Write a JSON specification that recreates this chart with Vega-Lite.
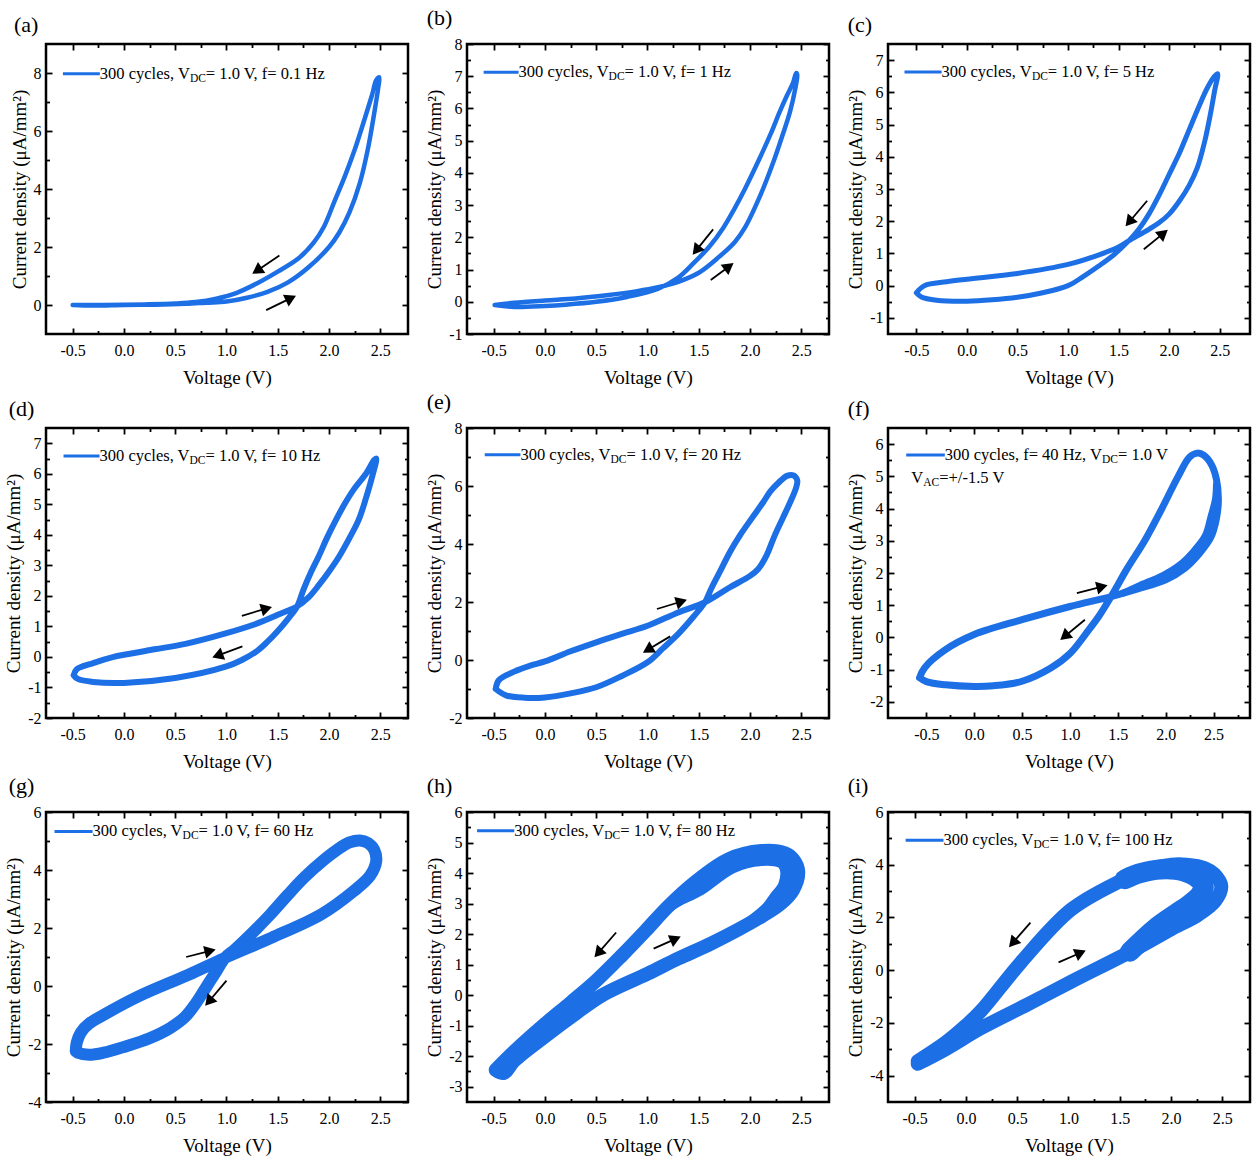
{
"$schema": "https://vega.github.io/schema/vega-lite/v6.json",
"padding": {"left": 3, "top": 5, "right": 0, "bottom": 0},
"columns": 3,
"spacing": {"row": 0, "column": 13},
"datasets": {
"loops": [
{"p":"a","i":0,"v":-0.5,"j":0.0},{"p":"a","i":1,"v":-0.3,"j":-0.02},{"p":"a","i":2,"v":0.0,"j":0.0},{"p":"a","i":3,"v":0.3,"j":0.01},{"p":"a","i":4,"v":0.6,"j":0.04},{"p":"a","i":5,"v":0.8,"j":0.08},{"p":"a","i":6,"v":1.0,"j":0.12},{"p":"a","i":7,"v":1.2,"j":0.25},{"p":"a","i":8,"v":1.4,"j":0.45},{"p":"a","i":9,"v":1.6,"j":0.78},{"p":"a","i":10,"v":1.8,"j":1.3},{"p":"a","i":11,"v":2.0,"j":2.0},{"p":"a","i":12,"v":2.1,"j":2.5},{"p":"a","i":13,"v":2.2,"j":3.2},{"p":"a","i":14,"v":2.3,"j":4.2},{"p":"a","i":15,"v":2.38,"j":5.4},{"p":"a","i":16,"v":2.44,"j":6.6},{"p":"a","i":17,"v":2.48,"j":7.5},{"p":"a","i":18,"v":2.49,"j":7.85},
{"p":"a","i":19,"v":2.46,"j":7.75},{"p":"a","i":20,"v":2.42,"j":7.25},{"p":"a","i":21,"v":2.35,"j":6.45},{"p":"a","i":22,"v":2.25,"j":5.35},{"p":"a","i":23,"v":2.15,"j":4.4},{"p":"a","i":24,"v":2.05,"j":3.55},{"p":"a","i":25,"v":1.95,"j":2.7},{"p":"a","i":26,"v":1.85,"j":2.15},{"p":"a","i":27,"v":1.7,"j":1.6},{"p":"a","i":28,"v":1.5,"j":1.15},{"p":"a","i":29,"v":1.3,"j":0.75},{"p":"a","i":30,"v":1.1,"j":0.42},{"p":"a","i":31,"v":0.9,"j":0.22},{"p":"a","i":32,"v":0.7,"j":0.1},{"p":"a","i":33,"v":0.5,"j":0.05},{"p":"a","i":34,"v":0.2,"j":0.02},{"p":"a","i":35,"v":-0.2,"j":0.0},{"p":"a","i":36,"v":-0.5,"j":0.0},

{"p":"b","i":0,"v":-0.49,"j":-0.1},{"p":"b","i":1,"v":-0.3,"j":-0.03},{"p":"b","i":2,"v":0.0,"j":0.04},{"p":"b","i":3,"v":0.3,"j":0.1},{"p":"b","i":4,"v":0.6,"j":0.2},{"p":"b","i":5,"v":0.9,"j":0.33},{"p":"b","i":6,"v":1.1,"j":0.45},{"p":"b","i":7,"v":1.3,"j":0.62},{"p":"b","i":8,"v":1.5,"j":0.9},{"p":"b","i":9,"v":1.7,"j":1.4},{"p":"b","i":10,"v":1.85,"j":1.85},{"p":"b","i":11,"v":1.95,"j":2.3},{"p":"b","i":12,"v":2.1,"j":3.3},{"p":"b","i":13,"v":2.23,"j":4.36},{"p":"b","i":14,"v":2.32,"j":5.2},{"p":"b","i":15,"v":2.39,"j":5.9},{"p":"b","i":16,"v":2.44,"j":6.6},{"p":"b","i":17,"v":2.46,"j":7.05},
{"p":"b","i":18,"v":2.45,"j":7.1},{"p":"b","i":19,"v":2.42,"j":6.8},{"p":"b","i":20,"v":2.36,"j":6.4},{"p":"b","i":21,"v":2.29,"j":5.9},{"p":"b","i":22,"v":2.2,"j":5.2},{"p":"b","i":23,"v":2.08,"j":4.36},{"p":"b","i":24,"v":1.95,"j":3.5},{"p":"b","i":25,"v":1.85,"j":2.9},{"p":"b","i":26,"v":1.74,"j":2.3},{"p":"b","i":27,"v":1.6,"j":1.7},{"p":"b","i":28,"v":1.45,"j":1.2},{"p":"b","i":29,"v":1.3,"j":0.75},{"p":"b","i":30,"v":1.1,"j":0.4},{"p":"b","i":31,"v":0.8,"j":0.15},{"p":"b","i":32,"v":0.5,"j":0.0},{"p":"b","i":33,"v":0.2,"j":-0.09},{"p":"b","i":34,"v":0.0,"j":-0.13},{"p":"b","i":35,"v":-0.3,"j":-0.16},{"p":"b","i":36,"v":-0.49,"j":-0.1},

{"p":"c","i":0,"v":-0.5,"j":-0.22},{"p":"c","i":1,"v":-0.42,"j":0.0},{"p":"c","i":2,"v":-0.2,"j":0.12},{"p":"c","i":3,"v":0.0,"j":0.2},{"p":"c","i":4,"v":0.5,"j":0.38},{"p":"c","i":5,"v":1.0,"j":0.66},{"p":"c","i":6,"v":1.3,"j":0.95},{"p":"c","i":7,"v":1.5,"j":1.2},{"p":"c","i":8,"v":1.6,"j":1.39},{"p":"c","i":9,"v":1.8,"j":1.75},{"p":"c","i":10,"v":1.9,"j":1.95},{"p":"c","i":11,"v":2.0,"j":2.22},{"p":"c","i":12,"v":2.1,"j":2.62},{"p":"c","i":13,"v":2.2,"j":3.12},{"p":"c","i":14,"v":2.28,"j":3.67},{"p":"c","i":15,"v":2.35,"j":4.45},{"p":"c","i":16,"v":2.41,"j":5.35},{"p":"c","i":17,"v":2.45,"j":6.05},{"p":"c","i":18,"v":2.48,"j":6.58},
{"p":"c","i":19,"v":2.45,"j":6.5},{"p":"c","i":20,"v":2.38,"j":6.15},{"p":"c","i":21,"v":2.3,"j":5.6},{"p":"c","i":22,"v":2.2,"j":4.85},{"p":"c","i":23,"v":2.1,"j":4.1},{"p":"c","i":24,"v":2.0,"j":3.45},{"p":"c","i":25,"v":1.9,"j":2.8},{"p":"c","i":26,"v":1.8,"j":2.22},{"p":"c","i":27,"v":1.7,"j":1.75},{"p":"c","i":28,"v":1.6,"j":1.39},{"p":"c","i":29,"v":1.45,"j":0.95},{"p":"c","i":30,"v":1.3,"j":0.6},{"p":"c","i":31,"v":1.15,"j":0.28},{"p":"c","i":32,"v":1.0,"j":0.0},{"p":"c","i":33,"v":0.75,"j":-0.22},{"p":"c","i":34,"v":0.5,"j":-0.36},{"p":"c","i":35,"v":0.25,"j":-0.44},{"p":"c","i":36,"v":0.0,"j":-0.48},{"p":"c","i":37,"v":-0.3,"j":-0.45},{"p":"c","i":38,"v":-0.45,"j":-0.35},{"p":"c","i":39,"v":-0.5,"j":-0.22},

{"p":"d","i":0,"v":-0.49,"j":-0.6},{"p":"d","i":1,"v":-0.46,"j":-0.4},{"p":"d","i":2,"v":-0.3,"j":-0.2},{"p":"d","i":3,"v":-0.1,"j":0.0},{"p":"d","i":4,"v":0.0,"j":0.07},{"p":"d","i":5,"v":0.3,"j":0.25},{"p":"d","i":6,"v":0.6,"j":0.43},{"p":"d","i":7,"v":1.0,"j":0.78},{"p":"d","i":8,"v":1.3,"j":1.1},{"p":"d","i":9,"v":1.5,"j":1.38},{"p":"d","i":10,"v":1.69,"j":1.66},{"p":"d","i":11,"v":1.8,"j":1.95},{"p":"d","i":12,"v":1.9,"j":2.35},{"p":"d","i":13,"v":2.0,"j":2.8},{"p":"d","i":14,"v":2.1,"j":3.3},{"p":"d","i":15,"v":2.2,"j":3.9},{"p":"d","i":16,"v":2.29,"j":4.5},{"p":"d","i":17,"v":2.36,"j":5.2},{"p":"d","i":18,"v":2.42,"j":5.9},{"p":"d","i":19,"v":2.46,"j":6.5},
{"p":"d","i":20,"v":2.44,"j":6.45},{"p":"d","i":21,"v":2.36,"j":6.0},{"p":"d","i":22,"v":2.25,"j":5.53},{"p":"d","i":23,"v":2.15,"j":5.0},{"p":"d","i":24,"v":2.06,"j":4.44},{"p":"d","i":25,"v":1.98,"j":3.9},{"p":"d","i":26,"v":1.9,"j":3.3},{"p":"d","i":27,"v":1.82,"j":2.75},{"p":"d","i":28,"v":1.75,"j":2.2},{"p":"d","i":29,"v":1.69,"j":1.66},{"p":"d","i":30,"v":1.6,"j":1.25},{"p":"d","i":31,"v":1.5,"j":0.85},{"p":"d","i":32,"v":1.4,"j":0.5},{"p":"d","i":33,"v":1.3,"j":0.2},{"p":"d","i":34,"v":1.15,"j":-0.1},{"p":"d","i":35,"v":1.0,"j":-0.31},{"p":"d","i":36,"v":0.5,"j":-0.69},{"p":"d","i":37,"v":0.0,"j":-0.85},{"p":"d","i":38,"v":-0.3,"j":-0.82},{"p":"d","i":39,"v":-0.45,"j":-0.72},{"p":"d","i":40,"v":-0.49,"j":-0.6},

{"p":"e","i":0,"v":-0.48,"j":-1.0},{"p":"e","i":1,"v":-0.45,"j":-0.7},{"p":"e","i":2,"v":-0.3,"j":-0.4},{"p":"e","i":3,"v":-0.15,"j":-0.2},{"p":"e","i":4,"v":0.0,"j":-0.05},{"p":"e","i":5,"v":0.25,"j":0.3},{"p":"e","i":6,"v":0.5,"j":0.61},{"p":"e","i":7,"v":0.75,"j":0.9},{"p":"e","i":8,"v":1.0,"j":1.18},{"p":"e","i":9,"v":1.3,"j":1.64},{"p":"e","i":10,"v":1.56,"j":1.99},{"p":"e","i":11,"v":1.8,"j":2.5},{"p":"e","i":12,"v":2.0,"j":2.9},{"p":"e","i":13,"v":2.08,"j":3.14},{"p":"e","i":14,"v":2.16,"j":3.6},{"p":"e","i":15,"v":2.24,"j":4.29},{"p":"e","i":16,"v":2.32,"j":4.9},{"p":"e","i":17,"v":2.39,"j":5.43},{"p":"e","i":18,"v":2.45,"j":5.95},{"p":"e","i":19,"v":2.46,"j":6.2},{"p":"e","i":20,"v":2.42,"j":6.37},
{"p":"e","i":21,"v":2.36,"j":6.35},{"p":"e","i":22,"v":2.28,"j":6.12},{"p":"e","i":23,"v":2.2,"j":5.82},{"p":"e","i":24,"v":2.13,"j":5.45},{"p":"e","i":25,"v":2.02,"j":4.9},{"p":"e","i":26,"v":1.9,"j":4.29},{"p":"e","i":27,"v":1.8,"j":3.7},{"p":"e","i":28,"v":1.72,"j":3.14},{"p":"e","i":29,"v":1.62,"j":2.45},{"p":"e","i":30,"v":1.56,"j":1.99},{"p":"e","i":31,"v":1.45,"j":1.5},{"p":"e","i":32,"v":1.3,"j":0.9},{"p":"e","i":33,"v":1.15,"j":0.4},{"p":"e","i":34,"v":1.0,"j":-0.08},{"p":"e","i":35,"v":0.75,"j":-0.55},{"p":"e","i":36,"v":0.5,"j":-0.94},{"p":"e","i":37,"v":0.25,"j":-1.15},{"p":"e","i":38,"v":0.0,"j":-1.29},{"p":"e","i":39,"v":-0.2,"j":-1.3},{"p":"e","i":40,"v":-0.38,"j":-1.22},{"p":"e","i":41,"v":-0.48,"j":-1.0},

{"p":"f","i":0,"v":-0.57,"j":-1.25},{"p":"f","i":1,"v":-0.52,"j":-0.95},{"p":"f","i":2,"v":-0.3,"j":-0.38},{"p":"f","i":3,"v":0.0,"j":0.09},{"p":"f","i":4,"v":0.5,"j":0.55},{"p":"f","i":5,"v":1.0,"j":0.96},{"p":"f","i":6,"v":1.43,"j":1.27},{"p":"f","i":7,"v":1.7,"j":1.5},{"p":"f","i":8,"v":2.0,"j":1.79},{"p":"f","i":9,"v":2.2,"j":2.15},{"p":"f","i":10,"v":2.35,"j":2.6},{"p":"f","i":11,"v":2.47,"j":3.1},{"p":"f","i":12,"v":2.53,"j":3.7},{"p":"f","i":13,"v":2.55,"j":4.3},{"p":"f","i":14,"v":2.53,"j":4.9},{"p":"f","i":15,"v":2.48,"j":5.35},{"p":"f","i":16,"v":2.4,"j":5.65},{"p":"f","i":17,"v":2.33,"j":5.72},
{"p":"f","i":18,"v":2.25,"j":5.6},{"p":"f","i":19,"v":2.13,"j":5.0},{"p":"f","i":20,"v":1.96,"j":4.0},{"p":"f","i":21,"v":1.78,"j":3.0},{"p":"f","i":22,"v":1.6,"j":2.15},{"p":"f","i":23,"v":1.43,"j":1.27},{"p":"f","i":24,"v":1.3,"j":0.65},{"p":"f","i":25,"v":1.2,"j":0.25},{"p":"f","i":26,"v":1.0,"j":-0.5},{"p":"f","i":27,"v":0.8,"j":-0.95},{"p":"f","i":28,"v":0.5,"j":-1.36},{"p":"f","i":29,"v":0.2,"j":-1.5},{"p":"f","i":30,"v":0.0,"j":-1.52},{"p":"f","i":31,"v":-0.3,"j":-1.47},{"p":"f","i":32,"v":-0.5,"j":-1.37},{"p":"f","i":33,"v":-0.57,"j":-1.25},

{"p":"g","i":0,"v":-0.47,"j":-2.25},{"p":"g","i":1,"v":-0.46,"j":-1.95},{"p":"g","i":2,"v":-0.42,"j":-1.6},{"p":"g","i":3,"v":-0.34,"j":-1.3},{"p":"g","i":4,"v":-0.2,"j":-1.0},{"p":"g","i":5,"v":0.146,"j":-0.35},{"p":"g","i":6,"v":0.63,"j":0.39},{"p":"g","i":7,"v":0.985,"j":0.97},{"p":"g","i":8,"v":1.436,"j":1.66},{"p":"g","i":9,"v":1.92,"j":2.46},{"p":"g","i":10,"v":2.24,"j":3.27},{"p":"g","i":11,"v":2.4,"j":3.8},{"p":"g","i":12,"v":2.46,"j":4.3},{"p":"g","i":13,"v":2.44,"j":4.7},{"p":"g","i":14,"v":2.38,"j":4.93},{"p":"g","i":15,"v":2.3,"j":5.02},
{"p":"g","i":16,"v":2.2,"j":4.95},{"p":"g","i":17,"v":2.08,"j":4.7},{"p":"g","i":18,"v":1.95,"j":4.35},{"p":"g","i":19,"v":1.76,"j":3.75},{"p":"g","i":20,"v":1.6,"j":3.15},{"p":"g","i":21,"v":1.436,"j":2.5},{"p":"g","i":22,"v":1.3,"j":2.0},{"p":"g","i":23,"v":1.2,"j":1.65},{"p":"g","i":24,"v":1.08,"j":1.25},{"p":"g","i":25,"v":0.985,"j":0.97},{"p":"g","i":26,"v":0.9,"j":0.5},{"p":"g","i":27,"v":0.8,"j":-0.05},{"p":"g","i":28,"v":0.7,"j":-0.6},{"p":"g","i":29,"v":0.6,"j":-1.05},{"p":"g","i":30,"v":0.45,"j":-1.45},{"p":"g","i":31,"v":0.25,"j":-1.8},{"p":"g","i":32,"v":0.0,"j":-2.1},{"p":"g","i":33,"v":-0.2,"j":-2.3},{"p":"g","i":34,"v":-0.34,"j":-2.37},{"p":"g","i":35,"v":-0.45,"j":-2.3},{"p":"g","i":36,"v":-0.47,"j":-2.25},

{"p":"h","i":0,"v":-0.48,"j":-2.45},{"p":"h","i":1,"v":-0.4,"j":-2.55},{"p":"h","i":2,"v":-0.3,"j":-2.15},{"p":"h","i":3,"v":0.0,"j":-1.35},{"p":"h","i":4,"v":0.3,"j":-0.6},{"p":"h","i":5,"v":0.56,"j":0.0},{"p":"h","i":6,"v":1.0,"j":0.7},{"p":"h","i":7,"v":1.3,"j":1.2},{"p":"h","i":8,"v":1.626,"j":1.7},{"p":"h","i":9,"v":2.112,"j":2.58},{"p":"h","i":10,"v":2.3,"j":3.0},{"p":"h","i":11,"v":2.42,"j":3.45},{"p":"h","i":12,"v":2.47,"j":4.05},
{"p":"h","i":13,"v":2.42,"j":4.45},{"p":"h","i":14,"v":2.34,"j":4.65},{"p":"h","i":15,"v":2.11,"j":4.72},{"p":"h","i":16,"v":1.79,"j":4.45},{"p":"h","i":17,"v":1.464,"j":3.7},{"p":"h","i":18,"v":1.2,"j":2.9},{"p":"h","i":19,"v":0.979,"j":2.1},{"p":"h","i":20,"v":0.75,"j":1.3},{"p":"h","i":21,"v":0.493,"j":0.45},{"p":"h","i":22,"v":0.25,"j":-0.25},{"p":"h","i":23,"v":0.0,"j":-0.95},{"p":"h","i":24,"v":-0.3,"j":-1.85},{"p":"h","i":25,"v":-0.48,"j":-2.45},

{"p":"i","i":0,"v":-0.47,"j":-3.55},{"p":"i","i":1,"v":-0.2,"j":-3.0},{"p":"i","i":2,"v":0.146,"j":-2.2},{"p":"i","i":3,"v":0.6,"j":-1.3},{"p":"i","i":4,"v":1.026,"j":-0.44},{"p":"i","i":5,"v":1.678,"j":0.85},{"p":"i","i":6,"v":2.0,"j":1.55},{"p":"i","i":7,"v":2.265,"j":2.1},{"p":"i","i":8,"v":2.43,"j":2.62},{"p":"i","i":9,"v":2.49,"j":3.18},
{"p":"i","i":10,"v":2.42,"j":3.65},{"p":"i","i":11,"v":2.33,"j":3.87},{"p":"i","i":12,"v":2.15,"j":4.0},{"p":"i","i":13,"v":2.004,"j":4.0},{"p":"i","i":14,"v":1.75,"j":3.8},{"p":"i","i":15,"v":1.515,"j":3.4},{"p":"i","i":16,"v":1.026,"j":2.3},{"p":"i","i":17,"v":0.537,"j":0.3},{"p":"i","i":18,"v":0.146,"j":-1.55},{"p":"i","i":19,"v":0.0,"j":-2.1},{"p":"i","i":20,"v":-0.2,"j":-2.75},{"p":"i","i":21,"v":-0.47,"j":-3.45}
],
"extra": [
{"p":"f","i":0,"v":1.55,"j":1.37},{"p":"f","i":1,"v":1.72,"j":1.6},{"p":"f","i":2,"v":1.975,"j":1.93},{"p":"f","i":3,"v":2.16,"j":2.28},{"p":"f","i":4,"v":2.3,"j":2.7},{"p":"f","i":5,"v":2.414,"j":3.16},{"p":"f","i":6,"v":2.47,"j":3.72},{"p":"f","i":7,"v":2.52,"j":4.3},{"p":"f","i":8,"v":2.53,"j":4.75},
{"p":"h","i":0,"v":2.0,"j":2.38},{"p":"h","i":1,"v":2.17,"j":2.86},{"p":"h","i":2,"v":2.244,"j":3.2},{"p":"h","i":3,"v":2.33,"j":3.59},{"p":"h","i":4,"v":2.353,"j":4.05},{"p":"h","i":5,"v":2.33,"j":4.276},{"p":"h","i":6,"v":2.3,"j":4.364},{"p":"h","i":7,"v":2.11,"j":4.425},{"p":"h","i":8,"v":1.827,"j":4.183},{"p":"h","i":9,"v":1.518,"j":3.467},{"p":"h","i":10,"v":1.3,"j":3.1},{"p":"h","i":11,"v":1.2,"j":2.9},
{"p":"i","i":0,"v":1.6,"j":0.7},{"p":"i","i":1,"v":1.85,"j":1.6},{"p":"i","i":2,"v":2.05,"j":2.15},{"p":"i","i":3,"v":2.18,"j":2.5},{"p":"i","i":4,"v":2.28,"j":2.85},{"p":"i","i":5,"v":2.32,"j":3.15},{"p":"i","i":6,"v":2.27,"j":3.45},{"p":"i","i":7,"v":2.12,"j":3.75},{"p":"i","i":8,"v":1.9,"j":3.82},{"p":"i","i":9,"v":1.7,"j":3.68},{"p":"i","i":10,"v":1.55,"j":3.45}
],
"legend": [
{"p":"a","k":"line","x":-0.595,"x2":-0.235,"y":7.97},{"p":"a","k":"t","x":-0.235,"y":7.97,"t":"300 cycles, V"},{"p":"a","k":"s","x":0.643,"y":7.97,"t":"DC"},{"p":"a","k":"t","x":0.799,"y":7.97,"t":"= 1.0 V, f= 0.1 Hz"},
{"p":"b","k":"line","x":-0.598,"x2":-0.257,"y":7.12},{"p":"b","k":"t","x":-0.257,"y":7.12,"t":"300 cycles, V"},{"p":"b","k":"s","x":0.621,"y":7.12,"t":"DC"},{"p":"b","k":"t","x":0.777,"y":7.12,"t":"= 1.0 V, f= 1 Hz"},
{"p":"c","k":"line","x":-0.617,"x2":-0.25,"y":6.63},{"p":"c","k":"t","x":-0.25,"y":6.63,"t":"300 cycles, V"},{"p":"c","k":"s","x":0.643,"y":6.63,"t":"DC"},{"p":"c","k":"t","x":0.801,"y":6.63,"t":"= 1.0 V, f= 5 Hz"},
{"p":"d","k":"line","x":-0.589,"x2":-0.238,"y":6.58},{"p":"d","k":"t","x":-0.238,"y":6.58,"t":"300 cycles, V"},{"p":"d","k":"s","x":0.64,"y":6.58,"t":"DC"},{"p":"d","k":"t","x":0.796,"y":6.58,"t":"= 1.0 V, f= 10 Hz"},
{"p":"e","k":"line","x":-0.587,"x2":-0.239,"y":7.08},{"p":"e","k":"t","x":-0.239,"y":7.08,"t":"300 cycles, V"},{"p":"e","k":"s","x":0.639,"y":7.08,"t":"DC"},{"p":"e","k":"t","x":0.795,"y":7.08,"t":"= 1.0 V, f= 20 Hz"},
{"p":"f","k":"line","x":-0.71,"x2":-0.307,"y":5.66},{"p":"f","k":"t","x":-0.307,"y":5.66,"t":"300 cycles, f= 40 Hz, V"},{"p":"f","k":"s","x":1.335,"y":5.66,"t":"DC"},{"p":"f","k":"t","x":1.502,"y":5.66,"t":"= 1.0 V"},
{"p":"f","k":"t","x":-0.656,"y":4.94,"t":"V"},{"p":"f","k":"s","x":-0.532,"y":4.94,"t":"AC"},{"p":"f","k":"t","x":-0.365,"y":4.94,"t":"=+/-1.5 V"},
{"p":"g","k":"line","x":-0.677,"x2":-0.306,"y":5.33},{"p":"g","k":"t","x":-0.306,"y":5.33,"t":"300 cycles, V"},{"p":"g","k":"s","x":0.572,"y":5.33,"t":"DC"},{"p":"g","k":"t","x":0.728,"y":5.33,"t":"= 1.0 V, f= 60 Hz"},
{"p":"h","k":"line","x":-0.662,"x2":-0.299,"y":5.385},{"p":"h","k":"t","x":-0.299,"y":5.385,"t":"300 cycles, V"},{"p":"h","k":"s","x":0.579,"y":5.385,"t":"DC"},{"p":"h","k":"t","x":0.735,"y":5.385,"t":"= 1.0 V, f= 80 Hz"},
{"p":"i","k":"line","x":-0.588,"x2":-0.219,"y":4.93},{"p":"i","k":"t","x":-0.219,"y":4.93,"t":"300 cycles, V"},{"p":"i","k":"s","x":0.659,"y":4.93,"t":"DC"},{"p":"i","k":"t","x":0.815,"y":4.93,"t":"= 1.0 V, f= 100 Hz"}
],
"arrows": [
{"p":"a","x":1.516,"y":1.705,"x2":1.297,"y2":1.185,"a":236},{"p":"a","x":1.387,"y":-0.178,"x2":1.628,"y2":0.237,"a":64},
{"p":"b","x":1.64,"y":2.245,"x2":1.475,"y2":1.594,"a":218.7},{"p":"b","x":1.617,"y":0.673,"x2":1.795,"y2":1.095,"a":53.2},
{"p":"c","x":1.783,"y":2.636,"x2":1.605,"y2":1.975,"a":220},{"p":"c","x":1.75,"y":1.13,"x2":1.944,"y2":1.623,"a":50.8},
{"p":"d","x":1.15,"y":1.349,"x2":1.391,"y2":1.588,"a":73.6},{"p":"d","x":1.155,"y":0.347,"x2":0.913,"y2":0.043,"a":249.6},
{"p":"e","x":1.092,"y":1.759,"x2":1.332,"y2":2.017,"a":73.1},{"p":"e","x":1.221,"y":0.814,"x2":1.003,"y2":0.352,"a":239.3},
{"p":"f","x":1.072,"y":1.378,"x2":1.336,"y2":1.575,"a":75.8},{"p":"f","x":1.156,"y":0.551,"x2":0.944,"y2":0.031,"a":230.2},
{"p":"g","x":0.607,"y":1.0,"x2":0.841,"y2":1.21,"a":75.9},{"p":"g","x":1.0,"y":0.183,"x2":0.828,"y2":-0.535,"a":220.5},
{"p":"h","x":0.694,"y":2.053,"x2":0.519,"y2":1.377,"a":221.2},{"p":"h","x":1.06,"y":1.526,"x2":1.274,"y2":1.845,"a":66.3},
{"p":"i","x":0.629,"y":1.806,"x2":0.456,"y2":1.034,"a":221.2},{"p":"i","x":0.903,"y":0.297,"x2":1.118,"y2":0.663,"a":66.4}
]
},
"concat": [
{"width":362,"height":290,"title":{"text":"(a)","dx":4},"resolve":{"axis":{"x":"independent","y":"independent"}},"layer":[
{"data":{"name":"loops"},"transform":[{"filter":"datum.p=='a'"}],"mark":{"type":"line","color":"#1d6fe5","strokeWidth":4.5,"interpolate":"catmull-rom","strokeJoin":"round","strokeCap":"round"},
"encoding":{"x":{"field":"v","type":"quantitative","scale":{"domain":[-0.76,2.77],"nice":false,"zero":false},"axis":{"orient":"bottom","title":"Voltage (V)","values":[-0.5,-0.25,0,0.25,0.5,0.75,1,1.25,1.5,1.75,2,2.25,2.5],"labelExpr":"abs(datum.value*2-round(datum.value*2))<0.001 ? replace(format(datum.value,'.1f'),'\u2212','-') : ''","tickSize":{"condition":{"test":"abs(datum.value*2-round(datum.value*2))>0.001","value":-3.5},"value":-6},"labelPadding":14,"titlePadding":8}},
"y":{"field":"j","type":"quantitative","scale":{"domain":[-1,9],"nice":false,"zero":false},"axis":{"orient":"left","title":"Current density (μA/mm²)","values":[0,1,2,3,4,5,6,7,8],"labelExpr":"datum.value % 2 == 0 ? '' + datum.value : ''","tickSize":{"condition":{"test":"datum.value % 2 != 0","value":-3.5},"value":-6},"labelPadding":11,"titlePadding":4}},
"order":{"field":"i","type":"quantitative"}}},
{"data":{"name":"legend"},"transform":[{"filter":"datum.p=='a' && datum.k=='line'"}],"mark":{"type":"rule","color":"#1d6fe5","strokeWidth":3},
"encoding":{"x":{"field":"x","type":"quantitative","axis":{"orient":"top","labels":false,"title":null,"values":[-0.5,-0.25,0,0.25,0.5,0.75,1,1.25,1.5,1.75,2,2.25,2.5],"tickSize":{"condition":{"test":"abs(datum.value*2-round(datum.value*2))>0.001","value":-3.5},"value":-6}}},"x2":{"field":"x2"},
"y":{"field":"y","type":"quantitative","axis":{"orient":"right","labels":false,"title":null,"values":[0,1,2,3,4,5,6,7,8],"tickSize":{"condition":{"test":"datum.value % 2 != 0","value":-3.5},"value":-6}}}}},
{"data":{"name":"legend"},"transform":[{"filter":"datum.p=='a' && datum.k=='t'"}],"mark":{"type":"text","align":"left","baseline":"middle","fontSize":16.5,"color":"black"},"encoding":{"x":{"field":"x","type":"quantitative","axis":null},"y":{"field":"y","type":"quantitative","axis":null},"text":{"field":"t"}}},
{"data":{"name":"legend"},"transform":[{"filter":"datum.p=='a' && datum.k=='s'"}],"mark":{"type":"text","align":"left","baseline":"middle","fontSize":11.5,"dy":5,"color":"black"},"encoding":{"x":{"field":"x","type":"quantitative","axis":null},"y":{"field":"y","type":"quantitative","axis":null},"text":{"field":"t"}}},
{"data":{"name":"arrows"},"transform":[{"filter":"datum.p=='a'"}],"mark":{"type":"rule","color":"black","strokeWidth":1.8},"encoding":{"x":{"field":"x","type":"quantitative","axis":null},"y":{"field":"y","type":"quantitative","axis":null},"x2":{"field":"x2"},"y2":{"field":"y2"}}},
{"data":{"name":"arrows"},"transform":[{"filter":"datum.p=='a'"}],"mark":{"type":"point","shape":"triangle-up","filled":true,"size":170,"color":"black","opacity":1},"encoding":{"x":{"field":"x2","type":"quantitative","axis":null},"y":{"field":"y2","type":"quantitative","axis":null},"angle":{"field":"a","type":"quantitative","scale":null}}}
]},
{"width":362,"height":290,"title":{"text":"(b)","dx":1},"resolve":{"axis":{"x":"independent","y":"independent"}},"layer":[
{"data":{"name":"loops"},"transform":[{"filter":"datum.p=='b'"}],"mark":{"type":"line","color":"#1d6fe5","strokeWidth":4.5,"interpolate":"catmull-rom","strokeJoin":"round","strokeCap":"round"},
"encoding":{"x":{"field":"v","type":"quantitative","scale":{"domain":[-0.76,2.77],"nice":false,"zero":false},"axis":{"orient":"bottom","title":"Voltage (V)","values":[-0.5,-0.25,0,0.25,0.5,0.75,1,1.25,1.5,1.75,2,2.25,2.5],"labelExpr":"abs(datum.value*2-round(datum.value*2))<0.001 ? replace(format(datum.value,'.1f'),'\u2212','-') : ''","tickSize":{"condition":{"test":"abs(datum.value*2-round(datum.value*2))>0.001","value":-3.5},"value":-6},"labelPadding":14,"titlePadding":8}},
"y":{"field":"j","type":"quantitative","scale":{"domain":[-1,8],"nice":false,"zero":false},"axis":{"orient":"left","title":"Current density (μA/mm²)","values":[-1,-0.5,0,0.5,1,1.5,2,2.5,3,3.5,4,4.5,5,5.5,6,6.5,7,7.5,8],"labelExpr":"datum.value % 1 == 0 ? '' + datum.value : ''","tickSize":{"condition":{"test":"datum.value % 1 != 0","value":-3.5},"value":-6},"labelPadding":11,"titlePadding":4}},
"order":{"field":"i","type":"quantitative"}}},
{"data":{"name":"legend"},"transform":[{"filter":"datum.p=='b' && datum.k=='line'"}],"mark":{"type":"rule","color":"#1d6fe5","strokeWidth":3},
"encoding":{"x":{"field":"x","type":"quantitative","axis":{"orient":"top","labels":false,"title":null,"values":[-0.5,-0.25,0,0.25,0.5,0.75,1,1.25,1.5,1.75,2,2.25,2.5],"tickSize":{"condition":{"test":"abs(datum.value*2-round(datum.value*2))>0.001","value":-3.5},"value":-6}}},"x2":{"field":"x2"},
"y":{"field":"y","type":"quantitative","axis":{"orient":"right","labels":false,"title":null,"values":[-1,-0.5,0,0.5,1,1.5,2,2.5,3,3.5,4,4.5,5,5.5,6,6.5,7,7.5,8],"tickSize":{"condition":{"test":"datum.value % 1 != 0","value":-3.5},"value":-6}}}}},
{"data":{"name":"legend"},"transform":[{"filter":"datum.p=='b' && datum.k=='t'"}],"mark":{"type":"text","align":"left","baseline":"middle","fontSize":16.5,"color":"black"},"encoding":{"x":{"field":"x","type":"quantitative","axis":null},"y":{"field":"y","type":"quantitative","axis":null},"text":{"field":"t"}}},
{"data":{"name":"legend"},"transform":[{"filter":"datum.p=='b' && datum.k=='s'"}],"mark":{"type":"text","align":"left","baseline":"middle","fontSize":11.5,"dy":5,"color":"black"},"encoding":{"x":{"field":"x","type":"quantitative","axis":null},"y":{"field":"y","type":"quantitative","axis":null},"text":{"field":"t"}}},
{"data":{"name":"arrows"},"transform":[{"filter":"datum.p=='b'"}],"mark":{"type":"rule","color":"black","strokeWidth":1.8},"encoding":{"x":{"field":"x","type":"quantitative","axis":null},"y":{"field":"y","type":"quantitative","axis":null},"x2":{"field":"x2"},"y2":{"field":"y2"}}},
{"data":{"name":"arrows"},"transform":[{"filter":"datum.p=='b'"}],"mark":{"type":"point","shape":"triangle-up","filled":true,"size":170,"color":"black","opacity":1},"encoding":{"x":{"field":"x2","type":"quantitative","axis":null},"y":{"field":"y2","type":"quantitative","axis":null},"angle":{"field":"a","type":"quantitative","scale":null}}}
]},
{"width":362,"height":290,"title":{"text":"(c)","dx":1},"resolve":{"axis":{"x":"independent","y":"independent"}},"layer":[
{"data":{"name":"loops"},"transform":[{"filter":"datum.p=='c'"}],"mark":{"type":"line","color":"#1d6fe5","strokeWidth":5,"interpolate":"catmull-rom","strokeJoin":"round","strokeCap":"round"},
"encoding":{"x":{"field":"v","type":"quantitative","scale":{"domain":[-0.78,2.8],"nice":false,"zero":false},"axis":{"orient":"bottom","title":"Voltage (V)","values":[-0.5,-0.25,0,0.25,0.5,0.75,1,1.25,1.5,1.75,2,2.25,2.5],"labelExpr":"abs(datum.value*2-round(datum.value*2))<0.001 ? replace(format(datum.value,'.1f'),'\u2212','-') : ''","tickSize":{"condition":{"test":"abs(datum.value*2-round(datum.value*2))>0.001","value":-3.5},"value":-6},"labelPadding":14,"titlePadding":8}},
"y":{"field":"j","type":"quantitative","scale":{"domain":[-1.5,7.5],"nice":false,"zero":false},"axis":{"orient":"left","title":"Current density (μA/mm²)","values":[-1,-0.5,0,0.5,1,1.5,2,2.5,3,3.5,4,4.5,5,5.5,6,6.5,7],"labelExpr":"datum.value % 1 == 0 ? '' + datum.value : ''","tickSize":{"condition":{"test":"datum.value % 1 != 0","value":-3.5},"value":-6},"labelPadding":11,"titlePadding":4}},
"order":{"field":"i","type":"quantitative"}}},
{"data":{"name":"legend"},"transform":[{"filter":"datum.p=='c' && datum.k=='line'"}],"mark":{"type":"rule","color":"#1d6fe5","strokeWidth":3},
"encoding":{"x":{"field":"x","type":"quantitative","axis":{"orient":"top","labels":false,"title":null,"values":[-0.5,-0.25,0,0.25,0.5,0.75,1,1.25,1.5,1.75,2,2.25,2.5],"tickSize":{"condition":{"test":"abs(datum.value*2-round(datum.value*2))>0.001","value":-3.5},"value":-6}}},"x2":{"field":"x2"},
"y":{"field":"y","type":"quantitative","axis":{"orient":"right","labels":false,"title":null,"values":[-1,-0.5,0,0.5,1,1.5,2,2.5,3,3.5,4,4.5,5,5.5,6,6.5,7],"tickSize":{"condition":{"test":"datum.value % 1 != 0","value":-3.5},"value":-6}}}}},
{"data":{"name":"legend"},"transform":[{"filter":"datum.p=='c' && datum.k=='t'"}],"mark":{"type":"text","align":"left","baseline":"middle","fontSize":16.5,"color":"black"},"encoding":{"x":{"field":"x","type":"quantitative","axis":null},"y":{"field":"y","type":"quantitative","axis":null},"text":{"field":"t"}}},
{"data":{"name":"legend"},"transform":[{"filter":"datum.p=='c' && datum.k=='s'"}],"mark":{"type":"text","align":"left","baseline":"middle","fontSize":11.5,"dy":5,"color":"black"},"encoding":{"x":{"field":"x","type":"quantitative","axis":null},"y":{"field":"y","type":"quantitative","axis":null},"text":{"field":"t"}}},
{"data":{"name":"arrows"},"transform":[{"filter":"datum.p=='c'"}],"mark":{"type":"rule","color":"black","strokeWidth":1.8},"encoding":{"x":{"field":"x","type":"quantitative","axis":null},"y":{"field":"y","type":"quantitative","axis":null},"x2":{"field":"x2"},"y2":{"field":"y2"}}},
{"data":{"name":"arrows"},"transform":[{"filter":"datum.p=='c'"}],"mark":{"type":"point","shape":"triangle-up","filled":true,"size":170,"color":"black","opacity":1},"encoding":{"x":{"field":"x2","type":"quantitative","axis":null},"y":{"field":"y2","type":"quantitative","axis":null},"angle":{"field":"a","type":"quantitative","scale":null}}}
]},
{"width":362,"height":290,"title":{"text":"(d)","dx":4},"resolve":{"axis":{"x":"independent","y":"independent"}},"layer":[
{"data":{"name":"loops"},"transform":[{"filter":"datum.p=='d'"}],"mark":{"type":"line","color":"#1d6fe5","strokeWidth":6,"interpolate":"catmull-rom","strokeJoin":"round","strokeCap":"round"},
"encoding":{"x":{"field":"v","type":"quantitative","scale":{"domain":[-0.76,2.77],"nice":false,"zero":false},"axis":{"orient":"bottom","title":"Voltage (V)","values":[-0.5,-0.25,0,0.25,0.5,0.75,1,1.25,1.5,1.75,2,2.25,2.5],"labelExpr":"abs(datum.value*2-round(datum.value*2))<0.001 ? replace(format(datum.value,'.1f'),'\u2212','-') : ''","tickSize":{"condition":{"test":"abs(datum.value*2-round(datum.value*2))>0.001","value":-3.5},"value":-6},"labelPadding":14,"titlePadding":8}},
"y":{"field":"j","type":"quantitative","scale":{"domain":[-2,7.5],"nice":false,"zero":false},"axis":{"orient":"left","title":"Current density (μA/mm²)","values":[-2,-1.5,-1,-0.5,0,0.5,1,1.5,2,2.5,3,3.5,4,4.5,5,5.5,6,6.5,7],"labelExpr":"datum.value % 1 == 0 ? '' + datum.value : ''","tickSize":{"condition":{"test":"datum.value % 1 != 0","value":-3.5},"value":-6},"labelPadding":11,"titlePadding":4}},
"order":{"field":"i","type":"quantitative"}}},
{"data":{"name":"legend"},"transform":[{"filter":"datum.p=='d' && datum.k=='line'"}],"mark":{"type":"rule","color":"#1d6fe5","strokeWidth":3},
"encoding":{"x":{"field":"x","type":"quantitative","axis":{"orient":"top","labels":false,"title":null,"values":[-0.5,-0.25,0,0.25,0.5,0.75,1,1.25,1.5,1.75,2,2.25,2.5],"tickSize":{"condition":{"test":"abs(datum.value*2-round(datum.value*2))>0.001","value":-3.5},"value":-6}}},"x2":{"field":"x2"},
"y":{"field":"y","type":"quantitative","axis":{"orient":"right","labels":false,"title":null,"values":[-2,-1.5,-1,-0.5,0,0.5,1,1.5,2,2.5,3,3.5,4,4.5,5,5.5,6,6.5,7],"tickSize":{"condition":{"test":"datum.value % 1 != 0","value":-3.5},"value":-6}}}}},
{"data":{"name":"legend"},"transform":[{"filter":"datum.p=='d' && datum.k=='t'"}],"mark":{"type":"text","align":"left","baseline":"middle","fontSize":16.5,"color":"black"},"encoding":{"x":{"field":"x","type":"quantitative","axis":null},"y":{"field":"y","type":"quantitative","axis":null},"text":{"field":"t"}}},
{"data":{"name":"legend"},"transform":[{"filter":"datum.p=='d' && datum.k=='s'"}],"mark":{"type":"text","align":"left","baseline":"middle","fontSize":11.5,"dy":5,"color":"black"},"encoding":{"x":{"field":"x","type":"quantitative","axis":null},"y":{"field":"y","type":"quantitative","axis":null},"text":{"field":"t"}}},
{"data":{"name":"arrows"},"transform":[{"filter":"datum.p=='d'"}],"mark":{"type":"rule","color":"black","strokeWidth":1.8},"encoding":{"x":{"field":"x","type":"quantitative","axis":null},"y":{"field":"y","type":"quantitative","axis":null},"x2":{"field":"x2"},"y2":{"field":"y2"}}},
{"data":{"name":"arrows"},"transform":[{"filter":"datum.p=='d'"}],"mark":{"type":"point","shape":"triangle-up","filled":true,"size":170,"color":"black","opacity":1},"encoding":{"x":{"field":"x2","type":"quantitative","axis":null},"y":{"field":"y2","type":"quantitative","axis":null},"angle":{"field":"a","type":"quantitative","scale":null}}}
]},
{"width":362,"height":290,"title":{"text":"(e)","dx":1},"resolve":{"axis":{"x":"independent","y":"independent"}},"layer":[
{"data":{"name":"loops"},"transform":[{"filter":"datum.p=='e'"}],"mark":{"type":"line","color":"#1d6fe5","strokeWidth":6,"interpolate":"catmull-rom","strokeJoin":"round","strokeCap":"round"},
"encoding":{"x":{"field":"v","type":"quantitative","scale":{"domain":[-0.76,2.77],"nice":false,"zero":false},"axis":{"orient":"bottom","title":"Voltage (V)","values":[-0.5,-0.25,0,0.25,0.5,0.75,1,1.25,1.5,1.75,2,2.25,2.5],"labelExpr":"abs(datum.value*2-round(datum.value*2))<0.001 ? replace(format(datum.value,'.1f'),'\u2212','-') : ''","tickSize":{"condition":{"test":"abs(datum.value*2-round(datum.value*2))>0.001","value":-3.5},"value":-6},"labelPadding":14,"titlePadding":8}},
"y":{"field":"j","type":"quantitative","scale":{"domain":[-2,8],"nice":false,"zero":false},"axis":{"orient":"left","title":"Current density (μA/mm²)","values":[-2,-1,0,1,2,3,4,5,6,7,8],"labelExpr":"datum.value % 2 == 0 ? '' + datum.value : ''","tickSize":{"condition":{"test":"datum.value % 2 != 0","value":-3.5},"value":-6},"labelPadding":11,"titlePadding":4}},
"order":{"field":"i","type":"quantitative"}}},
{"data":{"name":"legend"},"transform":[{"filter":"datum.p=='e' && datum.k=='line'"}],"mark":{"type":"rule","color":"#1d6fe5","strokeWidth":3},
"encoding":{"x":{"field":"x","type":"quantitative","axis":{"orient":"top","labels":false,"title":null,"values":[-0.5,-0.25,0,0.25,0.5,0.75,1,1.25,1.5,1.75,2,2.25,2.5],"tickSize":{"condition":{"test":"abs(datum.value*2-round(datum.value*2))>0.001","value":-3.5},"value":-6}}},"x2":{"field":"x2"},
"y":{"field":"y","type":"quantitative","axis":{"orient":"right","labels":false,"title":null,"values":[-2,-1,0,1,2,3,4,5,6,7,8],"tickSize":{"condition":{"test":"datum.value % 2 != 0","value":-3.5},"value":-6}}}}},
{"data":{"name":"legend"},"transform":[{"filter":"datum.p=='e' && datum.k=='t'"}],"mark":{"type":"text","align":"left","baseline":"middle","fontSize":16.5,"color":"black"},"encoding":{"x":{"field":"x","type":"quantitative","axis":null},"y":{"field":"y","type":"quantitative","axis":null},"text":{"field":"t"}}},
{"data":{"name":"legend"},"transform":[{"filter":"datum.p=='e' && datum.k=='s'"}],"mark":{"type":"text","align":"left","baseline":"middle","fontSize":11.5,"dy":5,"color":"black"},"encoding":{"x":{"field":"x","type":"quantitative","axis":null},"y":{"field":"y","type":"quantitative","axis":null},"text":{"field":"t"}}},
{"data":{"name":"arrows"},"transform":[{"filter":"datum.p=='e'"}],"mark":{"type":"rule","color":"black","strokeWidth":1.8},"encoding":{"x":{"field":"x","type":"quantitative","axis":null},"y":{"field":"y","type":"quantitative","axis":null},"x2":{"field":"x2"},"y2":{"field":"y2"}}},
{"data":{"name":"arrows"},"transform":[{"filter":"datum.p=='e'"}],"mark":{"type":"point","shape":"triangle-up","filled":true,"size":170,"color":"black","opacity":1},"encoding":{"x":{"field":"x2","type":"quantitative","axis":null},"y":{"field":"y2","type":"quantitative","axis":null},"angle":{"field":"a","type":"quantitative","scale":null}}}
]},
{"width":362,"height":290,"title":{"text":"(f)","dx":1},"resolve":{"axis":{"x":"independent","y":"independent"}},"layer":[
{"data":{"name":"loops"},"transform":[{"filter":"datum.p=='f'"}],"mark":{"type":"line","color":"#1d6fe5","strokeWidth":7,"interpolate":"catmull-rom","strokeJoin":"round","strokeCap":"round"},
"encoding":{"x":{"field":"v","type":"quantitative","scale":{"domain":[-0.9,2.88],"nice":false,"zero":false},"axis":{"orient":"bottom","title":"Voltage (V)","values":[-0.5,-0.25,0,0.25,0.5,0.75,1,1.25,1.5,1.75,2,2.25,2.5,2.75],"labelExpr":"abs(datum.value*2-round(datum.value*2))<0.001 ? replace(format(datum.value,'.1f'),'\u2212','-') : ''","tickSize":{"condition":{"test":"abs(datum.value*2-round(datum.value*2))>0.001","value":-3.5},"value":-6},"labelPadding":14,"titlePadding":8}},
"y":{"field":"j","type":"quantitative","scale":{"domain":[-2.5,6.5],"nice":false,"zero":false},"axis":{"orient":"left","title":"Current density (μA/mm²)","values":[-2,-1.5,-1,-0.5,0,0.5,1,1.5,2,2.5,3,3.5,4,4.5,5,5.5,6],"labelExpr":"datum.value % 1 == 0 ? '' + datum.value : ''","tickSize":{"condition":{"test":"datum.value % 1 != 0","value":-3.5},"value":-6},"labelPadding":11,"titlePadding":4}},
"order":{"field":"i","type":"quantitative"}}},
{"data":{"name":"extra"},"transform":[{"filter":"datum.p=='f'"}],"mark":{"type":"line","color":"#1d6fe5","strokeWidth":7,"interpolate":"catmull-rom","strokeJoin":"round","strokeCap":"round"},"encoding":{"x":{"field":"v","type":"quantitative","axis":null},"y":{"field":"j","type":"quantitative","axis":null},"order":{"field":"i","type":"quantitative"}}},
{"data":{"name":"legend"},"transform":[{"filter":"datum.p=='f' && datum.k=='line'"}],"mark":{"type":"rule","color":"#1d6fe5","strokeWidth":3},
"encoding":{"x":{"field":"x","type":"quantitative","axis":{"orient":"top","labels":false,"title":null,"values":[-0.5,-0.25,0,0.25,0.5,0.75,1,1.25,1.5,1.75,2,2.25,2.5,2.75],"tickSize":{"condition":{"test":"abs(datum.value*2-round(datum.value*2))>0.001","value":-3.5},"value":-6}}},"x2":{"field":"x2"},
"y":{"field":"y","type":"quantitative","axis":{"orient":"right","labels":false,"title":null,"values":[-2,-1.5,-1,-0.5,0,0.5,1,1.5,2,2.5,3,3.5,4,4.5,5,5.5,6],"tickSize":{"condition":{"test":"datum.value % 1 != 0","value":-3.5},"value":-6}}}}},
{"data":{"name":"legend"},"transform":[{"filter":"datum.p=='f' && datum.k=='t'"}],"mark":{"type":"text","align":"left","baseline":"middle","fontSize":16.5,"color":"black"},"encoding":{"x":{"field":"x","type":"quantitative","axis":null},"y":{"field":"y","type":"quantitative","axis":null},"text":{"field":"t"}}},
{"data":{"name":"legend"},"transform":[{"filter":"datum.p=='f' && datum.k=='s'"}],"mark":{"type":"text","align":"left","baseline":"middle","fontSize":11.5,"dy":5,"color":"black"},"encoding":{"x":{"field":"x","type":"quantitative","axis":null},"y":{"field":"y","type":"quantitative","axis":null},"text":{"field":"t"}}},
{"data":{"name":"arrows"},"transform":[{"filter":"datum.p=='f'"}],"mark":{"type":"rule","color":"black","strokeWidth":1.8},"encoding":{"x":{"field":"x","type":"quantitative","axis":null},"y":{"field":"y","type":"quantitative","axis":null},"x2":{"field":"x2"},"y2":{"field":"y2"}}},
{"data":{"name":"arrows"},"transform":[{"filter":"datum.p=='f'"}],"mark":{"type":"point","shape":"triangle-up","filled":true,"size":170,"color":"black","opacity":1},"encoding":{"x":{"field":"x2","type":"quantitative","axis":null},"y":{"field":"y2","type":"quantitative","axis":null},"angle":{"field":"a","type":"quantitative","scale":null}}}
]},
{"width":362,"height":290,"title":{"text":"(g)","dx":4},"resolve":{"axis":{"x":"independent","y":"independent"}},"layer":[
{"data":{"name":"loops"},"transform":[{"filter":"datum.p=='g'"}],"mark":{"type":"line","color":"#1d6fe5","strokeWidth":12,"interpolate":"catmull-rom","strokeJoin":"round","strokeCap":"round"},
"encoding":{"x":{"field":"v","type":"quantitative","scale":{"domain":[-0.76,2.77],"nice":false,"zero":false},"axis":{"orient":"bottom","title":"Voltage (V)","values":[-0.5,-0.25,0,0.25,0.5,0.75,1,1.25,1.5,1.75,2,2.25,2.5],"labelExpr":"abs(datum.value*2-round(datum.value*2))<0.001 ? replace(format(datum.value,'.1f'),'\u2212','-') : ''","tickSize":{"condition":{"test":"abs(datum.value*2-round(datum.value*2))>0.001","value":-3.5},"value":-6},"labelPadding":14,"titlePadding":8}},
"y":{"field":"j","type":"quantitative","scale":{"domain":[-4,6],"nice":false,"zero":false},"axis":{"orient":"left","title":"Current density (μA/mm²)","values":[-4,-3,-2,-1,0,1,2,3,4,5,6],"labelExpr":"datum.value % 2 == 0 ? '' + datum.value : ''","tickSize":{"condition":{"test":"datum.value % 2 != 0","value":-3.5},"value":-6},"labelPadding":11,"titlePadding":4}},
"order":{"field":"i","type":"quantitative"}}},
{"data":{"name":"legend"},"transform":[{"filter":"datum.p=='g' && datum.k=='line'"}],"mark":{"type":"rule","color":"#1d6fe5","strokeWidth":3},
"encoding":{"x":{"field":"x","type":"quantitative","axis":{"orient":"top","labels":false,"title":null,"values":[-0.5,-0.25,0,0.25,0.5,0.75,1,1.25,1.5,1.75,2,2.25,2.5],"tickSize":{"condition":{"test":"abs(datum.value*2-round(datum.value*2))>0.001","value":-3.5},"value":-6}}},"x2":{"field":"x2"},
"y":{"field":"y","type":"quantitative","axis":{"orient":"right","labels":false,"title":null,"values":[-4,-3,-2,-1,0,1,2,3,4,5,6],"tickSize":{"condition":{"test":"datum.value % 2 != 0","value":-3.5},"value":-6}}}}},
{"data":{"name":"legend"},"transform":[{"filter":"datum.p=='g' && datum.k=='t'"}],"mark":{"type":"text","align":"left","baseline":"middle","fontSize":16.5,"color":"black"},"encoding":{"x":{"field":"x","type":"quantitative","axis":null},"y":{"field":"y","type":"quantitative","axis":null},"text":{"field":"t"}}},
{"data":{"name":"legend"},"transform":[{"filter":"datum.p=='g' && datum.k=='s'"}],"mark":{"type":"text","align":"left","baseline":"middle","fontSize":11.5,"dy":5,"color":"black"},"encoding":{"x":{"field":"x","type":"quantitative","axis":null},"y":{"field":"y","type":"quantitative","axis":null},"text":{"field":"t"}}},
{"data":{"name":"arrows"},"transform":[{"filter":"datum.p=='g'"}],"mark":{"type":"rule","color":"black","strokeWidth":1.8},"encoding":{"x":{"field":"x","type":"quantitative","axis":null},"y":{"field":"y","type":"quantitative","axis":null},"x2":{"field":"x2"},"y2":{"field":"y2"}}},
{"data":{"name":"arrows"},"transform":[{"filter":"datum.p=='g'"}],"mark":{"type":"point","shape":"triangle-up","filled":true,"size":170,"color":"black","opacity":1},"encoding":{"x":{"field":"x2","type":"quantitative","axis":null},"y":{"field":"y2","type":"quantitative","axis":null},"angle":{"field":"a","type":"quantitative","scale":null}}}
]},
{"width":362,"height":290,"title":{"text":"(h)","dx":1},"resolve":{"axis":{"x":"independent","y":"independent"}},"layer":[
{"data":{"name":"loops"},"transform":[{"filter":"datum.p=='h'"}],"mark":{"type":"line","color":"#1d6fe5","strokeWidth":14,"interpolate":"catmull-rom","strokeJoin":"round","strokeCap":"round"},
"encoding":{"x":{"field":"v","type":"quantitative","scale":{"domain":[-0.76,2.77],"nice":false,"zero":false},"axis":{"orient":"bottom","title":"Voltage (V)","values":[-0.5,-0.25,0,0.25,0.5,0.75,1,1.25,1.5,1.75,2,2.25,2.5],"labelExpr":"abs(datum.value*2-round(datum.value*2))<0.001 ? replace(format(datum.value,'.1f'),'\u2212','-') : ''","tickSize":{"condition":{"test":"abs(datum.value*2-round(datum.value*2))>0.001","value":-3.5},"value":-6},"labelPadding":14,"titlePadding":8}},
"y":{"field":"j","type":"quantitative","scale":{"domain":[-3.5,6],"nice":false,"zero":false},"axis":{"orient":"left","title":"Current density (μA/mm²)","values":[-3,-2.5,-2,-1.5,-1,-0.5,0,0.5,1,1.5,2,2.5,3,3.5,4,4.5,5,5.5,6],"labelExpr":"datum.value % 1 == 0 ? '' + datum.value : ''","tickSize":{"condition":{"test":"datum.value % 1 != 0","value":-3.5},"value":-6},"labelPadding":11,"titlePadding":4}},
"order":{"field":"i","type":"quantitative"}}},
{"data":{"name":"extra"},"transform":[{"filter":"datum.p=='h'"}],"mark":{"type":"line","color":"#1d6fe5","strokeWidth":12,"interpolate":"catmull-rom","strokeJoin":"round","strokeCap":"round"},"encoding":{"x":{"field":"v","type":"quantitative","axis":null},"y":{"field":"j","type":"quantitative","axis":null},"order":{"field":"i","type":"quantitative"}}},
{"data":{"name":"legend"},"transform":[{"filter":"datum.p=='h' && datum.k=='line'"}],"mark":{"type":"rule","color":"#1d6fe5","strokeWidth":3},
"encoding":{"x":{"field":"x","type":"quantitative","axis":{"orient":"top","labels":false,"title":null,"values":[-0.5,-0.25,0,0.25,0.5,0.75,1,1.25,1.5,1.75,2,2.25,2.5],"tickSize":{"condition":{"test":"abs(datum.value*2-round(datum.value*2))>0.001","value":-3.5},"value":-6}}},"x2":{"field":"x2"},
"y":{"field":"y","type":"quantitative","axis":{"orient":"right","labels":false,"title":null,"values":[-3,-2.5,-2,-1.5,-1,-0.5,0,0.5,1,1.5,2,2.5,3,3.5,4,4.5,5,5.5,6],"tickSize":{"condition":{"test":"datum.value % 1 != 0","value":-3.5},"value":-6}}}}},
{"data":{"name":"legend"},"transform":[{"filter":"datum.p=='h' && datum.k=='t'"}],"mark":{"type":"text","align":"left","baseline":"middle","fontSize":16.5,"color":"black"},"encoding":{"x":{"field":"x","type":"quantitative","axis":null},"y":{"field":"y","type":"quantitative","axis":null},"text":{"field":"t"}}},
{"data":{"name":"legend"},"transform":[{"filter":"datum.p=='h' && datum.k=='s'"}],"mark":{"type":"text","align":"left","baseline":"middle","fontSize":11.5,"dy":5,"color":"black"},"encoding":{"x":{"field":"x","type":"quantitative","axis":null},"y":{"field":"y","type":"quantitative","axis":null},"text":{"field":"t"}}},
{"data":{"name":"arrows"},"transform":[{"filter":"datum.p=='h'"}],"mark":{"type":"rule","color":"black","strokeWidth":1.8},"encoding":{"x":{"field":"x","type":"quantitative","axis":null},"y":{"field":"y","type":"quantitative","axis":null},"x2":{"field":"x2"},"y2":{"field":"y2"}}},
{"data":{"name":"arrows"},"transform":[{"filter":"datum.p=='h'"}],"mark":{"type":"point","shape":"triangle-up","filled":true,"size":170,"color":"black","opacity":1},"encoding":{"x":{"field":"x2","type":"quantitative","axis":null},"y":{"field":"y2","type":"quantitative","axis":null},"angle":{"field":"a","type":"quantitative","scale":null}}}
]},
{"width":362,"height":290,"title":{"text":"(i)","dx":1},"resolve":{"axis":{"x":"independent","y":"independent"}},"layer":[
{"data":{"name":"loops"},"transform":[{"filter":"datum.p=='i'"}],"mark":{"type":"line","color":"#1d6fe5","strokeWidth":14,"interpolate":"catmull-rom","strokeJoin":"round","strokeCap":"round"},
"encoding":{"x":{"field":"v","type":"quantitative","scale":{"domain":[-0.76,2.77],"nice":false,"zero":false},"axis":{"orient":"bottom","title":"Voltage (V)","values":[-0.5,-0.25,0,0.25,0.5,0.75,1,1.25,1.5,1.75,2,2.25,2.5],"labelExpr":"abs(datum.value*2-round(datum.value*2))<0.001 ? replace(format(datum.value,'.1f'),'\u2212','-') : ''","tickSize":{"condition":{"test":"abs(datum.value*2-round(datum.value*2))>0.001","value":-3.5},"value":-6},"labelPadding":14,"titlePadding":8}},
"y":{"field":"j","type":"quantitative","scale":{"domain":[-5,6],"nice":false,"zero":false},"axis":{"orient":"left","title":"Current density (μA/mm²)","values":[-4,-3,-2,-1,0,1,2,3,4,5,6],"labelExpr":"datum.value % 2 == 0 ? '' + datum.value : ''","tickSize":{"condition":{"test":"datum.value % 2 != 0","value":-3.5},"value":-6},"labelPadding":11,"titlePadding":4}},
"order":{"field":"i","type":"quantitative"}}},
{"data":{"name":"extra"},"transform":[{"filter":"datum.p=='i'"}],"mark":{"type":"line","color":"#1d6fe5","strokeWidth":20,"interpolate":"catmull-rom","strokeJoin":"round","strokeCap":"round"},"encoding":{"x":{"field":"v","type":"quantitative","axis":null},"y":{"field":"j","type":"quantitative","axis":null},"order":{"field":"i","type":"quantitative"}}},
{"data":{"name":"legend"},"transform":[{"filter":"datum.p=='i' && datum.k=='line'"}],"mark":{"type":"rule","color":"#1d6fe5","strokeWidth":3},
"encoding":{"x":{"field":"x","type":"quantitative","axis":{"orient":"top","labels":false,"title":null,"values":[-0.5,-0.25,0,0.25,0.5,0.75,1,1.25,1.5,1.75,2,2.25,2.5],"tickSize":{"condition":{"test":"abs(datum.value*2-round(datum.value*2))>0.001","value":-3.5},"value":-6}}},"x2":{"field":"x2"},
"y":{"field":"y","type":"quantitative","axis":{"orient":"right","labels":false,"title":null,"values":[-4,-3,-2,-1,0,1,2,3,4,5,6],"tickSize":{"condition":{"test":"datum.value % 2 != 0","value":-3.5},"value":-6}}}}},
{"data":{"name":"legend"},"transform":[{"filter":"datum.p=='i' && datum.k=='t'"}],"mark":{"type":"text","align":"left","baseline":"middle","fontSize":16.5,"color":"black"},"encoding":{"x":{"field":"x","type":"quantitative","axis":null},"y":{"field":"y","type":"quantitative","axis":null},"text":{"field":"t"}}},
{"data":{"name":"legend"},"transform":[{"filter":"datum.p=='i' && datum.k=='s'"}],"mark":{"type":"text","align":"left","baseline":"middle","fontSize":11.5,"dy":5,"color":"black"},"encoding":{"x":{"field":"x","type":"quantitative","axis":null},"y":{"field":"y","type":"quantitative","axis":null},"text":{"field":"t"}}},
{"data":{"name":"arrows"},"transform":[{"filter":"datum.p=='i'"}],"mark":{"type":"rule","color":"black","strokeWidth":1.8},"encoding":{"x":{"field":"x","type":"quantitative","axis":null},"y":{"field":"y","type":"quantitative","axis":null},"x2":{"field":"x2"},"y2":{"field":"y2"}}},
{"data":{"name":"arrows"},"transform":[{"filter":"datum.p=='i'"}],"mark":{"type":"point","shape":"triangle-up","filled":true,"size":170,"color":"black","opacity":1},"encoding":{"x":{"field":"x2","type":"quantitative","axis":null},"y":{"field":"y2","type":"quantitative","axis":null},"angle":{"field":"a","type":"quantitative","scale":null}}}
]}
],
"config": {
"font": "Liberation Serif",
"view": {"stroke": "black", "strokeWidth": 2.5},
"axis": {"labelFont": "Liberation Serif", "titleFont": "Liberation Serif", "labelFontSize": 16, "titleFontSize": 19, "titleFontWeight": "normal", "labelColor": "black", "titleColor": "black", "tickColor": "black", "tickWidth": 1.8, "grid": false, "domain": false, "labelFlush": false, "labelOverlap": false},
"title": {"font": "Liberation Serif", "fontSize": 22, "fontWeight": "normal", "anchor": "start", "frame": "bounds", "offset": 6, "color": "black"},
"text": {"font": "Liberation Serif"}
}
}
